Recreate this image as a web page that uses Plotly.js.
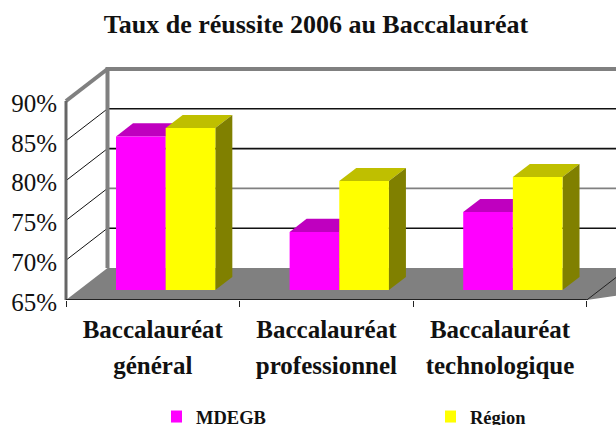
<!DOCTYPE html>
<html><head><meta charset="utf-8">
<script src="https://cdn.plot.ly/plotly-3.0.1.min.js"></script>
<style>html,body{margin:0;padding:0;background:#fff}</style></head>
<body><div id="chart" style="width:616px;height:425px"></div>
<script>
const categoriesLine1 = ["Baccalauréat","Baccalauréat","Baccalauréat"];
const categoriesLine2 = ["général","professionnel","technologique"];
const mdegb  = [84.3, 72.3, 74.8];
const region = [85.35, 78.7, 79.2];
const yTickVals = [65,70,75,80,85,90];
const yTickText = ["65%","70%","75%","80%","85%","90%"];
const gridVals = [70,75,80,85];
const gridColors = ["#111","#808080","#111","#111"];

const F = "'Liberation Serif', serif";
const W = 616, H = 425, L = 62, R = 0, T = 60, B = 125;
const pxX = 173.6, pxY = 7.96;
const xMin = -4/pxX, xMax = xMin + (W-L-R)/pxX;
const yMin = 65, yMax = yMin + (H-T-B)/pxY;
const DX = 41.5/pxX, DY = 32/pxY;         // oblique depth of the floor
const d0 = 0.31, d1 = 0.72, bw = 0.286;   // bar depth span and width

const P = (x,y,d)=>[x+d*DX, y+d*DY];
const path = pts => 'M'+pts.map(p=>p.join(',')).join('L')+'Z';
const open = pts => 'M'+pts.map(p=>p.join(',')).join('L');
const shapes = [];
const add = (d,fill,lc,lw)=>shapes.push({type:'path',xref:'x',yref:'y',layer:'below',path:d,
  fillcolor:fill||'rgba(0,0,0,0)',line:{color:lc||'rgba(0,0,0,0)',width:lw||0}});

gridVals.forEach((v,i)=>{
  add(open([P(0,v,0),P(0,v,1)]),null,'#111',1);
  add(open([P(0,v,1),P(xMax,v,1)]),null,gridColors[i],1.6);
});
// floor
add(path([P(0,65,0),P(0,65,1),P(4,65,1),P(3,65,0)]),'#808080');
add(open([P(3,65,0),P(3,65,1)]),null,'#222',1);
// walls
add(open([P(0,65,1),P(0,90,1),P(xMax+1,90,1)]),null,'#808080',4);
add(open([P(0,90,0),P(0,90,1)]),null,'#808080',4);

function faces(vals, off, top, side){
  vals.forEach((v,i)=>{
    const xl = i+0.5+off, xr = xl+bw;
    add(path([P(xl,v,d0),P(xl,v,d1),P(xr,v,d1),P(xr,v,d0)]),top);
    add(path([P(xr,65,d0),P(xr,65,d1),P(xr,v,d1),P(xr,v,d0)]),side);
  });
}
faces(mdegb,-bw,'#BF00BF','#800080');
faces(region,0,'#BFBF00','#808000');

const cx = categoriesLine1.map((_,i)=>i+0.5+d0*DX);
const bar = (name,vals,off,color,lg)=>({type:'bar',name,x:cx,y:vals.map(v=>v-65),legend:lg,showlegend:true,
  base:vals.map(()=>65+d0*DY),width:bw,offset:off,marker:{color,line:{width:0}},hoverinfo:'skip'});
const line = (x,y,c,w)=>({type:'scatter',mode:'lines',x,y,line:{color:c,width:w},cliponaxis:false,showlegend:false,hoverinfo:'skip'});

const traces = [
  bar('MDEGB',mdegb,-bw,'#FF00FF','legend'),
  bar('Région',region,0,'#FFFF00','legend2'),
  line([0,0],[65,90],'#666',3),
  line([0,3],[65,65],'#222',2)
];
const legendBase = {orientation:'h',xanchor:'left',y:-(405-300+(-7))/(H-T-B),yanchor:'top',indentation:-15,
  font:{family:F,size:18.5,color:'#111',weight:'bold'},bgcolor:'rgba(0,0,0,0)'};
const layout = {
  width:W,height:H,margin:{l:L,r:R,t:T,b:B,autoexpand:false},
  paper_bgcolor:'#fff',plot_bgcolor:'#fff',barmode:'overlay',
  title:{text:'Taux de réussite 2006 au Baccalauréat',font:{family:F,size:26,color:'#111',weight:'bold'},
    x:316/616,xanchor:'center',y:1-24/425,yanchor:'middle'},
  xaxis:{range:[xMin,xMax],tickmode:'array',tickvals:[0.5,1.5,2.5],
    ticktext:categoriesLine1.map((a,i)=>`<span style="font-size:25px">${a}</span><br><span style="font-size:25px">${categoriesLine2[i]}</span>`),
    tickfont:{family:F,size:27.7,color:'#111',weight:'bold'},ticks:'',showgrid:false,zeroline:false,showline:false,
    ticklabelstandoff:9,
    minor:{tickmode:'array',tickvals:[0,1,2,3],ticks:'outside',ticklen:6,tickwidth:1,tickcolor:'#222',showgrid:false}},
  yaxis:{range:[yMin,yMax],tickmode:'array',tickvals:yTickVals,ticktext:yTickText,
    tickfont:{family:F,size:25,color:'#111'},ticks:'',showgrid:false,zeroline:false,showline:false,
    ticklabelstandoff:4,ticklabelshift:2},
  legend:Object.assign({},legendBase,{x:(171-L)/(W-L)}),
  legend2:Object.assign({},legendBase,{x:(445-L)/(W-L)}),
  shapes
};
Plotly.newPlot('chart',traces,layout,{displayModeBar:false,staticPlot:true});
</script></body></html>
